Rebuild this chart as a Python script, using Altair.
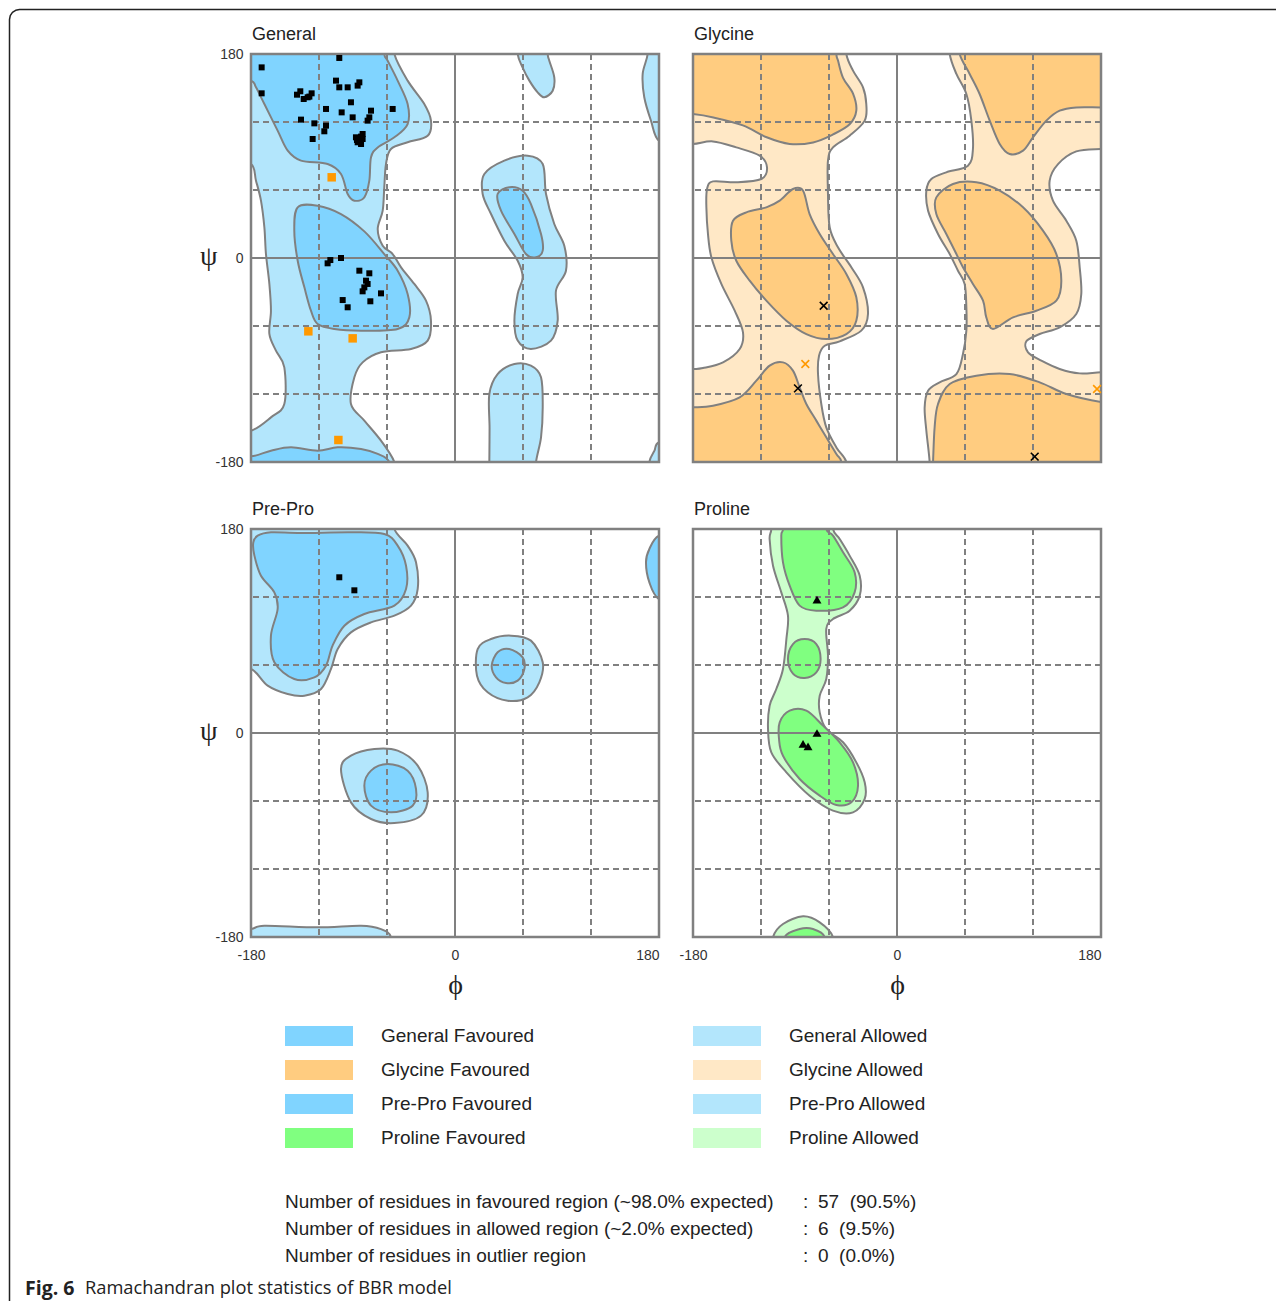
import altair as alt
import pandas as pd

# ---------------- data ----------------
PANEL_TITLES = ["General", "Glycine", "Pre-Pro", "Proline"]
AXIS_TICKS = [-180, 0, 180]
GRID_DASHED = [-120, -60, 60, 120]
GRID_SOLID = [0]
FRAME = [-180, 180]

# contour polygons (phi, psi)
GEN_ALLOWED = {
    "main": [(-200, 200), (-53.5, 200), (-53.5, 180), (-41.8, 156.5), (-27.1, 135.9), (-21.2, 121.2),
             (-24.1, 107.9), (-41.8, 102.1), (-56.5, 96.2), (-60.9, 82.9), (-62.4, 62.4), (-63.8, 41.8),
             (-68.2, 25.6), (-63.8, 10.9), (-55, 3.5), (-47.6, -8.2), (-35.9, -22.9), (-25.6, -37.6),
             (-21.2, -55.3), (-24.1, -72.9), (-38.8, -80.3), (-65.3, -83.2), (-81.5, -92.1), (-88.8, -105.3),
             (-91.8, -128.8), (-80, -143.5), (-65.3, -161.2), (-53.5, -180), (-50, -200), (-200, -200),
             (-200, -152), (-180, -152.4), (-162.4, -140.6), (-150.6, -128.8), (-150.6, -96.5), (-158, -81.8),
             (-163.8, -67), (-162.4, -46.5), (-163.8, -22.9), (-166.8, 3.5), (-168.2, 27), (-171.2, 50.6),
             (-175.6, 68.2), (-180, 82.9), (-200, 85)],
    "topright": [(170, 200), (170, 180), (165.6, 162.4), (167, 141.8), (172.9, 121.2), (180, 103.5),
                 (200, 100), (200, 200)],
    "botright": [(171, -200), (171.5, -180), (176, -170), (180, -162.6), (200, -160), (200, -200)],
    "topmid": [(55, 200), (55.3, 180), (59.7, 168), (65.6, 156.5), (72.9, 146.2), (78.8, 141.8),
               (86.2, 147.6), (87.6, 159.4), (83.2, 174.1), (81.8, 180), (81, 200)],
    "botmid": [(30.3, -200), (30.3, -180), (30.5, -150), (30.3, -120), (37.6, -102.4), (52.4, -93.5),
               (67, -95), (75.9, -105.3), (77.4, -131.8), (75.9, -158.2), (71.5, -180), (71, -200)],
    "alphaL": [(25.9, 74.1), (43.5, 85.9), (64.1, 90.3), (77.4, 82.9), (80.3, 56.5), (87.6, 30),
               (96.5, 10.6), (97.9, -11.2), (89.1, -28.8), (90.6, -55.3), (84.7, -72.9), (67, -80.3),
               (55.3, -72.9), (52.4, -55.3), (55.3, -31.8), (59.7, -17), (55.3, -2.4), (43.5, 15.3),
               (31.8, 38.8), (24.4, 56.5)],
}
GEN_FAVOURED = {
    "beta": [(-200, 160), (-200, 200), (-62.4, 200), (-62.4, 180), (-59.4, 174.1), (-50.6, 156.5),
             (-41.8, 135.9), (-41.8, 118.2), (-53.5, 106.5), (-68.2, 97.6), (-74.1, 88.8), (-75.6, 68.2),
             (-80, 53.5), (-88.8, 50.6), (-94.7, 56.5), (-100.6, 74.1), (-112.4, 82.9), (-135.9, 85.9),
             (-147.6, 94.7), (-156.5, 112.4), (-168.2, 135.9), (-175.6, 150.6), (-180, 156.5)],
    "alphaR": [(-138.8, 44.7), (-121.2, 46.2), (-100.6, 38.8), (-80, 23.5), (-62.4, 3.5), (-50.6, -11.2),
               (-41.8, -31.8), (-40.3, -52.4), (-50.6, -62.6), (-82.9, -64.1), (-106.5, -62.6),
               (-121.2, -58.2), (-127.1, -46.5), (-132.9, -25.9), (-138.8, -2.4), (-141.8, 24.1)],
    "alphaL": [(37.6, 56.5), (47.9, 62.4), (59.7, 59.4), (67, 47.6), (75.9, 21.2), (77.4, 6.5),
               (71.5, 0.6), (62.6, 3.5), (52.4, 21.2), (40.6, 41.8)],
    "bottom": [(-200, -200), (-200, -172), (-180, -175), (-162.4, -170), (-144.7, -167), (-121.2, -170),
               (-103.5, -167), (-82.9, -168.5), (-68.2, -172.9), (-58, -180), (-56, -200)],
}
GLY_WHITE = {
    "band": [(-44.7, 200), (-44.7, 180), (-38.8, 165.3), (-30, 150.6), (-27.1, 135.9), (-28.5, 121.2),
             (-41.8, 107.9), (-56.5, 97.6), (-60.9, 85.9), (-60.9, 56.5), (-59.4, 27.1), (-52.1, 9.4),
             (-40.3, -8.2), (-30, -25.9), (-25.6, -49.4), (-31.5, -64.1), (-50.6, -73.5), (-63.8, -77.4),
             (-68.8, -86.2), (-69.7, -102.4), (-66.8, -128.8), (-62.4, -149.4), (-53.5, -167.1),
             (-44.7, -180), (-44.7, -200), (28.8, -200), (28.8, -180), (25.9, -152.4), (24.4, -131.8),
             (27.4, -117.1), (37.6, -109.7), (52.4, -102.4), (58.2, -84.7), (61.2, -64.1), (61.2, -43.5),
             (59.7, -22.9), (53.8, -11.2), (46.5, 3.5), (36.2, 21.2), (27.4, 41.8), (25.9, 59.4),
             (30.3, 69.7), (43.5, 75.6), (62.6, 81.5), (67, 96.2), (65.6, 121.2), (61.2, 144.7),
             (52.4, 162.4), (46.5, 180), (46.5, 200)],
    "left": [(-200, 100), (-180, 100.6), (-162.4, 102.9), (-141.8, 97.6), (-121.2, 90.3), (-114.7, 80),
             (-119.7, 69.7), (-141.8, 66.8), (-162.4, 67.6), (-167.6, 60.9), (-168.2, 44.7), (-166.8, 21.2),
             (-163.8, 0.6), (-155, -22.9), (-143.2, -46.5), (-135.9, -65.6), (-138.8, -80.3),
             (-153.5, -92.1), (-171.2, -97.1), (-180, -97.9), (-200, -98)],
    "right": [(200, 96), (180, 96.2), (158.2, 94.1), (142.1, 82.9), (134.7, 68.2), (137.6, 50.6),
              (149.4, 32.9), (158.2, 15.3), (161.2, -8.2), (162.6, -31.8), (158.2, -49.4), (143.5, -61.2),
              (125.9, -67.1), (114.1, -73.5), (115.6, -83.2), (127.4, -90.6), (143.5, -97.9),
              (161.2, -101.8), (180, -100.9), (200, -101)],
}
GLY_FAVOURED = {
    "topleft": [(-200, 200), (-53.5, 200), (-53.5, 180), (-52, 174), (-47.6, 159), (-38.8, 145),
                (-35.9, 130), (-41.8, 118), (-56.5, 109), (-74, 102), (-94.7, 100.6), (-115, 106.5),
                (-136, 117), (-162, 124), (-180, 127), (-200, 128)],
    "botleft": [(-200, -132), (-180, -131.8), (-162.4, -130.3), (-138.8, -122.9), (-124.1, -108.2),
                (-112.4, -95), (-100.6, -92.1), (-91.8, -99.4), (-85.9, -114.1), (-80, -128.8),
                (-71.2, -143.5), (-62.4, -158.2), (-53.5, -172.9), (-49.1, -180), (-48, -200), (-200, -200)],
    "topright": [(54, 200), (55.3, 180), (64.1, 162.4), (72.9, 144.7), (81.8, 121.2), (90.6, 100.6),
                 (99.4, 91.8), (111.2, 94.7), (120, 106.5), (131.8, 121.2), (143.5, 130), (158.2, 132.9),
                 (180, 132.9), (200, 133), (200, 200)],
    "botright": [(31, -200), (31.8, -180), (33.2, -149.4), (36.2, -128.8), (46.5, -111.2), (70, -103.8),
                 (99.4, -102.4), (125.9, -109.7), (149.4, -120), (180, -127), (200, -128), (200, -200)],
    "alphaR": [(-144.7, 32.9), (-132.9, 40.3), (-115.3, 44.7), (-103.5, 50.6), (-91.8, 60.9), (-82.9, 59.4),
               (-77.1, 38.8), (-68.2, 21.2), (-56.5, 3.5), (-44.7, -14.1), (-35.9, -34.7), (-35.9, -55.3),
               (-44.7, -67.1), (-62.4, -71.5), (-80, -67.1), (-97.6, -55.3), (-115.3, -37.6), (-130, -20),
               (-141.8, -2.4), (-146.2, 15.3)],
    "alphaL": [(34.7, 53.5), (49.4, 65.3), (70, 66.8), (90.6, 59.4), (111.2, 44.7), (128.8, 24.1),
               (140.6, 3.5), (145, -20), (140.6, -37.6), (122.9, -46.5), (102.4, -52.4), (84.7, -62.6),
               (78.8, -52.4), (75.9, -37.6), (67, -22.9), (58.2, -8.2), (52.4, 3.5), (43.5, 21.2),
               (34.7, 38.8)],
}
PRE_ALLOWED = {
    "topleft": [(-200, 200), (-53.5, 200), (-53.5, 180), (-41.8, 165.3), (-34.4, 150.6), (-32.9, 127.1),
                (-38.8, 112.4), (-53.5, 103.5), (-74.1, 97.6), (-91.8, 88.8), (-103.5, 74.1), (-109.4, 56.5),
                (-118.2, 38.8), (-132.9, 32.9), (-147.6, 34.4), (-165.3, 41.8), (-180, 56.5), (-200, 55)],
    "bottom": [(-200, -200), (-200, -173), (-180, -173), (-168.2, -170), (-121.2, -171.5), (-82.9, -170),
               (-65.3, -173), (-56.5, -180), (-55, -200)],
    "alphaL": [(20, 74.1), (31.8, 82.9), (49.4, 85.9), (67, 81.5), (77.4, 62.4), (74.4, 44.7),
               (64.1, 31.5), (46.5, 28.5), (28.8, 35.9), (19.4, 50.6)],
    "alphaR": [(-100.6, -31.8), (-91.8, -20), (-71.2, -14.1), (-50.6, -15.6), (-32.9, -28.8),
               (-24.1, -52.4), (-30, -72.9), (-53.5, -79.4), (-74.1, -75.9), (-91.8, -61.2)],
}
PRE_FAVOURED = {
    "topleft": [(-178, 168), (-174.1, 174.1), (-162.4, 177.1), (-135.9, 176.5), (-91.8, 177.1),
                (-62.4, 175.6), (-50.6, 165.3), (-43.2, 147.6), (-43.2, 127.1), (-53.5, 112.4), (-80, 105),
                (-97.6, 94.7), (-108, 77.1), (-113.8, 59.4), (-124.1, 49.1), (-141.8, 47.6), (-159.4, 62.4),
                (-162.4, 85.9), (-156.5, 109.4), (-159.4, 124.1), (-171.2, 138.8), (-177, 156.5)],
    "right": [(200, 176), (180, 174.1), (171.5, 162.4), (168.5, 150.6), (171.5, 132.9), (180, 118.2),
              (200, 116)],
    "alphaL": [(32.4, 59.4), (37.6, 71.2), (47.9, 74.1), (59.7, 66.8), (61.2, 56.5), (55.3, 46.2),
               (45, 44.1), (36.2, 49.1)],
    "alphaR": [(-80, -46.5), (-74.1, -33.2), (-59.4, -27.4), (-41.8, -33.2), (-34.4, -49.4),
               (-37.4, -64.1), (-56.5, -70), (-74.1, -64.1)],
}
PRO_ALLOWED = {
    "band": [(-111, 200), (-110.9, 180), (-112.4, 171.2), (-109.4, 147.6), (-102.1, 124.1), (-96.2, 103.5),
             (-97.6, 82.9), (-100.6, 56.5), (-106.5, 38.8), (-112.4, 24.1), (-113.8, 3.5), (-110.9, -17),
             (-97.6, -34.7), (-77.1, -55.3), (-56.5, -68.5), (-38.8, -70), (-28.5, -58.2), (-28.5, -43.5),
             (-35.9, -25.9), (-47.6, -8.2), (-62.4, 3.5), (-68.2, 18.2), (-68.2, 32.9), (-62.4, 47.6),
             (-60.9, 68.2), (-62.4, 91.8), (-56.5, 100.6), (-41.8, 107.9), (-32.9, 121.2), (-32.9, 138.8),
             (-41.8, 156.5), (-50.6, 171.2), (-56.5, 180), (-57, 200)],
    "bottom": [(-110, -200), (-109.4, -180), (-100.6, -168.5), (-82.9, -161.8), (-68.2, -167.1),
               (-56.5, -180), (-56, -200)],
}
PRO_FAVOURED = {
    "top": [(-101, 200), (-100.6, 180), (-102.1, 174.1), (-100.6, 150.6), (-94.7, 130), (-85.9, 112.4),
            (-71.2, 107.9), (-47.6, 110.9), (-37.4, 124.1), (-37.4, 141.8), (-47.6, 159.4), (-56.5, 174.1),
            (-62.4, 180), (-62.5, 200)],
    "mid": [(-96.2, 65.3), (-91.8, 78.5), (-81.5, 82.9), (-71.2, 78.5), (-67.4, 65.3), (-71.2, 53.5),
            (-81.5, 48.5), (-91.8, 52.4)],
    "alpha": [(-103.5, 9.4), (-94.7, 19.7), (-80, 19.7), (-65.3, 6.5), (-50.6, -8.2), (-38.8, -25.9),
              (-34.4, -46.5), (-40.3, -61.2), (-53.5, -63.5), (-68.2, -55.3), (-85.9, -40.6),
              (-100.6, -20), (-104.1, -5.3)],
    "bottom": [(-99, -200), (-99.1, -180), (-85.9, -173), (-74.1, -173), (-63.8, -180), (-63.5, -200)],
}

# residues (phi, psi)
GEN_FAV_PTS = [(-170.6, 168.2), (-170.6, 145.3), (-102.1, 176.5), (-139.4, 144.1), (-136.5, 147.1),
               (-133.5, 140.3), (-130, 141.8), (-126.5, 145.3), (-128.5, 142.4), (-105, 156.5),
               (-102.1, 150.6), (-94.7, 150.6), (-85.9, 152.1), (-84.4, 155), (-113.8, 131.5),
               (-91.8, 137.4), (-100, 128.5), (-74.1, 130), (-55, 131.5), (-135.9, 122.1), (-124.1, 118.8),
               (-90.3, 124.1), (-77.1, 121.2), (-75.6, 124.1), (-113.8, 116.8), (-115.3, 111.8),
               (-125.6, 105), (-87.4, 106.5), (-84.4, 103.5), (-81.5, 109.4), (-82.9, 100.6),
               (-85.9, 102.1), (-81.5, 105), (-86.5, 104.1), (-82.9, 107.1), (-112.4, -4.7), (-110, -1.8),
               (-100.6, 0), (-84.4, -11.2), (-75.6, -13.5), (-78.5, -20), (-77.1, -22.9), (-80, -25.9),
               (-81.5, -29.4), (-65.3, -31.2), (-99.1, -37.1), (-74.7, -38.2), (-94.7, -43.5)]
GEN_ALW_PTS = [(-108.8, 71.2), (-129.4, -64.7), (-90.3, -70.9), (-102.9, -160.6)]
GLY_FAV_PTS = [(-64.7, -42.1), (-87.4, -115), (121.5, -175.3)]
GLY_ALW_PTS = [(-80.9, -93.5), (176.5, -115.6)]
PRE_FAV_PTS = [(-102.1, 137.4), (-88.8, 125.9)]
PRO_FAV_PTS = [(-70.6, 117.6), (-70.6, 0), (-82.9, -9.7), (-78.5, -11.8)]

LEGEND_NAMES = ["General Favoured", "Glycine Favoured", "Pre-Pro Favoured", "Proline Favoured",
                "General Allowed", "Glycine Allowed", "Pre-Pro Allowed", "Proline Allowed"]
LEGEND_COL = [0, 0, 0, 0, 1, 1, 1, 1]
LEGEND_ROW = [0, 1, 2, 3, 0, 1, 2, 3]

STATS_LABELS = ["Number of residues in favoured region (~98.0% expected)",
                "Number of residues in allowed region (~2.0% expected)",
                "Number of residues in outlier region"]
STATS_VALUES = ["57\u00a0 (90.5%)", "6\u00a0 (9.5%)", "0\u00a0 (0.0%)"]
CAPTION_BOLD = "Fig. 6"
CAPTION_REST = "Ramachandran plot statistics of BBR model"

# ---------------- style ----------------
FONT = "Liberation Sans"
GREEK = "Liberation Serif, DejaVu Serif"
OUTLINE = "#808080"
TXT = "#222222"
GEN_FAV, GEN_ALW = "#80d4ff", "#b3e6fc"
GLY_FAV, GLY_ALW = "#ffcc80", "#ffe8c6"
PRO_FAV, PRO_ALW = "#80ff80", "#ccffcc"
LEGEND_COLORS = [GEN_FAV, GLY_FAV, GEN_FAV, PRO_FAV, GEN_ALW, GLY_ALW, GEN_ALW, PRO_ALW]
SIDE = 408
# figure border outline (page pixels): rounded top-left corner, open at the bottom
BORDER_X = [9.5, 9.5, 10.26, 12.43, 15.67, 19.5, 1276]
BORDER_Y = [1301, 19.5, 15.67, 12.43, 10.26, 9.5, 9.5]

XS = alt.Scale(domain=FRAME, nice=False, zero=False)
YS = alt.Scale(domain=FRAME, nice=False, zero=False)


def y_axis():
    return alt.Axis(values=AXIS_TICKS, title="ψ", titleFont=GREEK, titleFontSize=28,
                    titleFontWeight="normal", titleColor=TXT, titleAngle=0, titleAlign="right",
                    titleBaseline="middle", titleX=-34, titleY=SIDE / 2 - 2,
                    labelFont=FONT, labelFontSize=14, labelColor="#333333", labelPadding=8,
                    labelExpr="'' + datum.value",
                    ticks=False, domain=False, grid=False)


def x_axis():
    return alt.Axis(values=AXIS_TICKS, title="ϕ", titleFont=GREEK, titleFontSize=28,
                    titleFontWeight="normal", titleColor=TXT, titleAngle=0, titleAlign="center",
                    titleBaseline="middle", titleX=SIDE / 2, titleY=48,
                    labelFont=FONT, labelFontSize=14, labelColor="#333333", labelPadding=11,
                    labelExpr="'' + datum.value",
                    labelAlign={"condition": {"test": "datum.value == 180", "value": "right"},
                                "value": "center"},
                    ticks=False, domain=False, grid=False)


def poly_df(polys):
    rows = []
    for name, pts in polys.items():
        for i, (x, y) in enumerate(pts):
            rows.append({"poly": name, "i": i, "phi": x, "psi": y})
    return pd.DataFrame(rows)


def pts_df(pts):
    return pd.DataFrame({"phi": [p[0] for p in pts], "psi": [p[1] for p in pts]})


def panel(title, allowed, favoured, c_alw, c_fav, points, show_x, show_y, holes=None):
    xa = x_axis() if show_x else None
    ya = y_axis() if show_y else None

    def X(f):
        return alt.X(f"{f}:Q", scale=XS, axis=xa)

    def Y(f):
        return alt.Y(f"{f}:Q", scale=YS, axis=ya)

    def fills(polys, color):
        return alt.Chart(poly_df(polys)).mark_line(
            interpolate="cardinal-closed", fill=color, stroke=OUTLINE, strokeWidth=2, clip=True
        ).encode(x=X("phi"), y=Y("psi"), detail="poly:N", order="i:Q")

    frame_df = pd.DataFrame({"x0": [FRAME[0]], "x1": [FRAME[1]], "y0": [FRAME[0]], "y1": [FRAME[1]]})
    layers = []
    if holes is not None:
        layers.append(alt.Chart(frame_df).mark_rect(fill=c_alw, strokeWidth=0).encode(
            x=X("x0"), x2="x1", y=Y("y0"), y2="y1"))
        layers.append(fills(holes, "#ffffff"))
    else:
        layers.append(fills(allowed, c_alw))
    layers.append(fills(favoured, c_fav))

    dashed = pd.DataFrame({"g": GRID_DASHED})
    solid = pd.DataFrame({"g": GRID_SOLID})
    rule_kw = dict(color=OUTLINE, strokeWidth=2)
    layers.append(alt.Chart(dashed).mark_rule(strokeDash=[6, 4], **rule_kw).encode(x=X("g")))
    layers.append(alt.Chart(dashed).mark_rule(strokeDash=[6, 4], **rule_kw).encode(y=Y("g")))
    layers.append(alt.Chart(solid).mark_rule(**rule_kw).encode(x=X("g")))
    layers.append(alt.Chart(solid).mark_rule(**rule_kw).encode(y=Y("g")))
    layers.append(alt.Chart(frame_df).mark_rect(fillOpacity=0, stroke=OUTLINE, strokeWidth=2.5).encode(
        x=X("x0"), x2="x1", y=Y("y0"), y2="y1"))

    for pts, mark in points:
        layers.append(alt.Chart(pts_df(pts)).mark_point(**mark).encode(x=X("phi"), y=Y("psi")))

    title_df = pd.DataFrame({"t": [title], "x": [FRAME[0]], "y": [FRAME[1]]})
    layers.append(alt.Chart(title_df).mark_text(align="left", baseline="alphabetic", dx=1, dy=-14,
                                                font=FONT, fontSize=18, color=TXT).encode(
        x=X("x"), y=Y("y"), text="t:N"))

    return alt.layer(*layers).properties(width=SIDE, height=SIDE)


sq_black = dict(shape="square", filled=True, color="black", size=36, opacity=1)
sq_orange = dict(shape="square", filled=True, color="#ff9900", size=72, opacity=1)
cross = "M-1,-1L1,1M1,-1L-1,1"
x_black = dict(shape=cross, filled=False, color="black", size=60, strokeWidth=1.6, opacity=1)
x_orange = dict(shape=cross, filled=False, color="#ff9900", size=60, strokeWidth=1.6, opacity=1)
tri = dict(shape="triangle-up", filled=True, color="black", size=80, opacity=1)

general = panel(PANEL_TITLES[0], GEN_ALLOWED, GEN_FAVOURED, GEN_ALW, GEN_FAV,
                [(GEN_FAV_PTS, sq_black), (GEN_ALW_PTS, sq_orange)], False, True)
glycine = panel(PANEL_TITLES[1], None, GLY_FAVOURED, GLY_ALW, GLY_FAV,
                [(GLY_FAV_PTS, x_black), (GLY_ALW_PTS, x_orange)], False, False, holes=GLY_WHITE)
prepro = panel(PANEL_TITLES[2], PRE_ALLOWED, PRE_FAVOURED, GEN_ALW, GEN_FAV,
               [(PRE_FAV_PTS, sq_black)], True, True)
proline = panel(PANEL_TITLES[3], PRO_ALLOWED, PRO_FAVOURED, PRO_ALW, PRO_FAV,
                [(PRO_FAV_PTS, tri)], True, False)

# ---------------- legend, statistics, caption ----------------
leg_df = pd.DataFrame({"name": LEGEND_NAMES, "col": LEGEND_COL, "row": LEGEND_ROW})
leg_x = alt.X("col:Q", scale=alt.Scale(domain=[0, 1], range=[68, 476]), axis=None)
leg_y = alt.Y("row:Q", scale=alt.Scale(domain=[0, 3], range=[32, 134]), axis=None)
leg_rect = alt.Chart(leg_df).mark_rect(width=68, height=20).encode(
    x=leg_x, y=leg_y,
    color=alt.Color("name:N", scale=alt.Scale(domain=LEGEND_NAMES, range=LEGEND_COLORS), legend=None))
leg_text = alt.Chart(leg_df).mark_text(align="left", baseline="middle", dx=62, font=FONT,
                                       fontSize=19, color=TXT).encode(x=leg_x, y=leg_y, text="name:N")

stats_rows = []
for r, (lab, val) in enumerate(zip(STATS_LABELS, STATS_VALUES)):
    stats_rows += [{"r": r, "p": 0, "t": lab}, {"r": r, "p": 1, "t": ":"}, {"r": r, "p": 2, "t": val}]
stats_df = pd.DataFrame(stats_rows)
stats = alt.Chart(stats_df).mark_text(align="left", baseline="middle", font=FONT, fontSize=19,
                                      color=TXT).encode(
    x=alt.X("p:Q", scale=alt.Scale(domain=[0, 1, 2], range=[34, 552, 567]), axis=None),
    y=alt.Y("r:Q", scale=alt.Scale(domain=[0, 2], range=[198, 252]), axis=None),
    text="t:N")

one = pd.DataFrame({"a": [0]})
cap_bold = alt.Chart(one).mark_text(text=CAPTION_BOLD, align="left", baseline="middle", font="Open Sans",
                                    fontSize=19.5, fontWeight="bold", color=TXT).encode(
    x=alt.value(-226), y=alt.value(285))
cap_rest = alt.Chart(one).mark_text(text=CAPTION_REST, align="left", baseline="middle", font="Open Sans",
                                    fontSize=18.3, color=TXT).encode(
    x=alt.value(-166), y=alt.value(285))

# border path drawn in page-pixel units through its own scales (legend block origin is at 251, 1004)
border_df = pd.DataFrame({"bx": BORDER_X, "by": BORDER_Y, "i": list(range(len(BORDER_X)))})
border = alt.Chart(border_df).mark_line(color="#222222", strokeWidth=1.5, strokeJoin="round",
                                        strokeCap="butt").encode(
    x=alt.X("bx:Q", scale=alt.Scale(domain=[0, 1000], range=[-251, 749], nice=False, zero=False), axis=None),
    y=alt.Y("by:Q", scale=alt.Scale(domain=[0, 1000], range=[-1004, -4], nice=False, zero=False), axis=None),
    order="i:Q")

legend = alt.layer(border, leg_rect, leg_text, stats, cap_bold, cap_rest).resolve_scale(
    x="independent", y="independent").properties(width=SIDE, height=296)

chart = alt.concat(general, glycine, prepro, proline, legend, columns=2,
                   spacing={"row": 67, "column": 34}, align="none", bounds="flush").properties(
    padding=0
).configure_view(stroke=None)

chart.save("out.html", embed_options={"renderer": "svg", "actions": False})
